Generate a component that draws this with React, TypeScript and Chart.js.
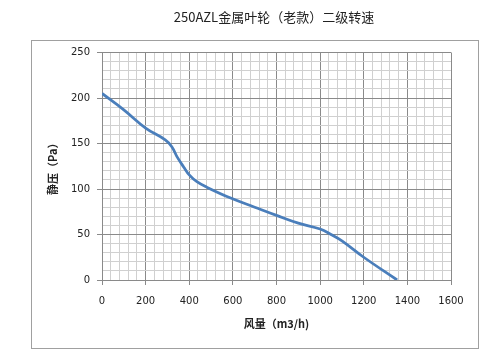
import React, { useEffect, useRef } from "react";
import { Chart, registerables } from "chart.js";

Chart.register(...registerables);

const flowValues = [0, 100, 200, 290, 320, 345, 375, 400, 435, 480, 590, 700, 800, 900, 1000, 1050, 1100, 1200, 1353];
const pressureValues = [205, 187, 167, 154, 146.5, 135, 124, 115.5, 108, 102, 90, 80, 71, 62.5, 56, 50, 43, 25, 0];
const chartTitle = "250AZL金属叶轮（老款）二级转速";
const xTitle = "风量（m3/h)";
const yTitle = "静压（Pa）";
const xMajorStep = 200;
const yMajorStep = 50;

const decor = {
  id: "decor",
  beforeDraw(chart: any) {
    const ctx = chart.ctx;
    ctx.save();
    ctx.fillStyle = "#ffffff";
    ctx.fillRect(0, 0, chart.width, chart.height);
    ctx.strokeStyle = "#a0a0a0";
    ctx.lineWidth = 1;
    ctx.strokeRect(31.5, 40.5, 447, 308);
    ctx.restore();
  },
  afterDraw(chart: any) {
    const ctx = chart.ctx;
    const a = chart.chartArea;
    ctx.save();
    ctx.fillStyle = "#222";
    ctx.textAlign = "center";
    ctx.textBaseline = "middle";
    ctx.font = '13px "Noto Sans CJK SC"';
    ctx.fillText(chartTitle, 274, 17);
    ctx.font = 'bold 11px "Noto Sans CJK SC"';
    ctx.fillText(xTitle, (a.left + a.right) / 2, 324);
    ctx.translate(53, (a.top + a.bottom) / 2);
    ctx.rotate(-Math.PI / 2);
    ctx.fillText(yTitle, 0, 0);
    ctx.restore();
  },
};

export default function App() {
  const ref = useRef<HTMLCanvasElement | null>(null);
  useEffect(() => {
    document.body.style.margin = "0";
    const canvas = ref.current!;
    const chart = new Chart(canvas, {
      type: "line",
      data: {
        datasets: [
          {
            data: flowValues.map((x, i) => ({ x, y: pressureValues[i] })),
            borderColor: "#4a7ebb",
            borderWidth: 2.75,
            pointRadius: 0,
            fill: false,
            tension: 0.4,
          },
        ],
      },
      options: {
        animation: false,
        responsive: false,
        layout: { padding: { left: 31, right: 49, top: 52.5, bottom: 14 } },
        plugins: { legend: { display: false }, title: { display: false }, tooltip: { enabled: false } },
        scales: {
          x: {
            type: "linear",
            min: 0,
            max: 1600,
            afterFit: (s: any) => { s.height = 68; },
            ticks: {
              stepSize: 40,
              autoSkip: false,
              maxRotation: 0,
              padding: 10,
              color: "#222",
              font: { family: "DejaVu Sans", size: 10 },
              callback: (v: any) => (Number(v) % xMajorStep === 0 ? String(v) : ""),
            },
            grid: {
              color: (c: any) => (c.tick && c.tick.value % xMajorStep === 0 ? "#8a8a8a" : "#d0d0d0"),
              tickColor: (c: any) => (c.tick && c.tick.value % xMajorStep === 0 ? "#8a8a8a" : "rgba(0,0,0,0)"),
              tickLength: 5,
              lineWidth: 1,
            },
            border: { color: "#8a8a8a" },
          },
          y: {
            min: 0,
            max: 250,
            afterFit: (s: any) => { s.width = 71; },
            ticks: {
              stepSize: 10,
              autoSkip: false,
              padding: 7,
              color: "#222",
              font: { family: "DejaVu Sans", size: 10 },
              callback: (v: any) => (Number(v) % yMajorStep === 0 ? String(v) : ""),
            },
            grid: {
              color: (c: any) => (c.tick && c.tick.value % yMajorStep === 0 ? "#8a8a8a" : "#d0d0d0"),
              tickColor: (c: any) => (c.tick && c.tick.value % yMajorStep === 0 ? "#8a8a8a" : "rgba(0,0,0,0)"),
              tickLength: 5,
              lineWidth: 1,
            },
            border: { color: "#8a8a8a" },
          },
        },
      },
      plugins: [decor],
    } as any);
    return () => chart.destroy();
  }, []);
  return <canvas ref={ref} width={500} height={362} style={{ display: "block", width: 500, height: 362 }} />;
}
